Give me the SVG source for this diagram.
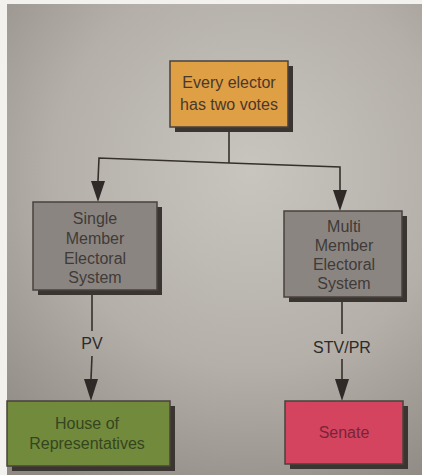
<svg xmlns="http://www.w3.org/2000/svg" width="422" height="475" viewBox="0 0 422 475">
  <defs>
    <radialGradient id="bg" cx="250" cy="170" r="360" gradientUnits="userSpaceOnUse">
      <stop offset="0" stop-color="#c8c5bf"/>
      <stop offset="0.55" stop-color="#b4b0a9"/>
      <stop offset="1" stop-color="#8e8982"/>
    </radialGradient>
    <style>
      .shadow { fill: #3b3532; }
      .box { stroke: #4a423d; stroke-width: 1.5; }
      .lbl { font-family: "Liberation Sans", Arial, sans-serif; font-size: 16px; text-anchor: middle; }
      .conn { fill: none; stroke: #36302c; stroke-width: 1.6; }
      .head { fill: #2f2a27; }
      .edge { font-family: "Liberation Sans", Arial, sans-serif; font-size: 16px; text-anchor: middle; fill: #2e2a28; }
    </style>
  </defs>

  <rect x="0" y="0" width="422" height="475" fill="#f2f1ee"/>
  <rect x="7" y="4" width="415" height="471" fill="url(#bg)"/>

  <g id="connectors">
    <polyline class="conn" points="229,128 229,163"/>
    <polyline class="conn" points="98,181 99,158 229,163 340,167 340,190"/>
    <path class="head" d="M91,181 L105,181 L98,202 Z"/>
    <path class="head" d="M333,190 L347,190 L340,211 Z"/>
    <line class="conn" x1="92" y1="290" x2="92" y2="331"/>
    <line class="conn" x1="92" y1="356" x2="91" y2="379"/>
    <path class="head" d="M84,379 L98,379 L91,401 Z"/>
    <text class="edge" x="92" y="349">PV</text>
    <line class="conn" x1="342" y1="297" x2="342" y2="334"/>
    <line class="conn" x1="342" y1="359" x2="342" y2="379"/>
    <path class="head" d="M335,379 L349,379 L342,401 Z"/>
    <text class="edge" x="342" y="353">STV/PR</text>
  </g>

  <g id="node-electors">
    <rect class="shadow" x="175" y="66" width="118" height="66"/>
    <rect class="box" x="170" y="61" width="118" height="66" fill="#df9f44"/>
    <text class="lbl" x="229" y="88" fill="#4a382c">Every elector</text>
    <text class="lbl" x="229" y="110" fill="#4a382c">has two votes</text>
  </g>

  <g id="node-single">
    <rect class="shadow" x="38" y="207" width="124" height="88"/>
    <rect class="box" x="33" y="202" width="124" height="88" fill="#8b8581"/>
    <text class="lbl" x="95" y="224" fill="#403b38">Single</text>
    <text class="lbl" x="95" y="244" fill="#403b38">Member</text>
    <text class="lbl" x="95" y="264" fill="#403b38">Electoral</text>
    <text class="lbl" x="95" y="283" fill="#403b38">System</text>
  </g>

  <g id="node-multi">
    <rect class="shadow" x="289" y="216" width="118" height="86"/>
    <rect class="box" x="284" y="211" width="118" height="86" fill="#8b8581"/>
    <text class="lbl" x="344" y="232" fill="#403b38">Multi</text>
    <text class="lbl" x="344" y="251" fill="#403b38">Member</text>
    <text class="lbl" x="344" y="270" fill="#403b38">Electoral</text>
    <text class="lbl" x="344" y="289" fill="#403b38">System</text>
  </g>

  <g id="node-house">
    <rect class="shadow" x="12" y="406" width="163" height="65"/>
    <rect class="box" x="7" y="401" width="163" height="65" fill="#718a3c"/>
    <text class="lbl" x="87" y="429" fill="#364520">House of</text>
    <text class="lbl" x="87" y="449" fill="#364520">Representatives</text>
  </g>

  <g id="node-senate">
    <rect class="shadow" x="290" y="406" width="118" height="63"/>
    <rect class="box" x="285" y="401" width="118" height="63" fill="#d4445f"/>
    <text class="lbl" x="344" y="438" fill="#7a2338">Senate</text>
  </g>
</svg>
